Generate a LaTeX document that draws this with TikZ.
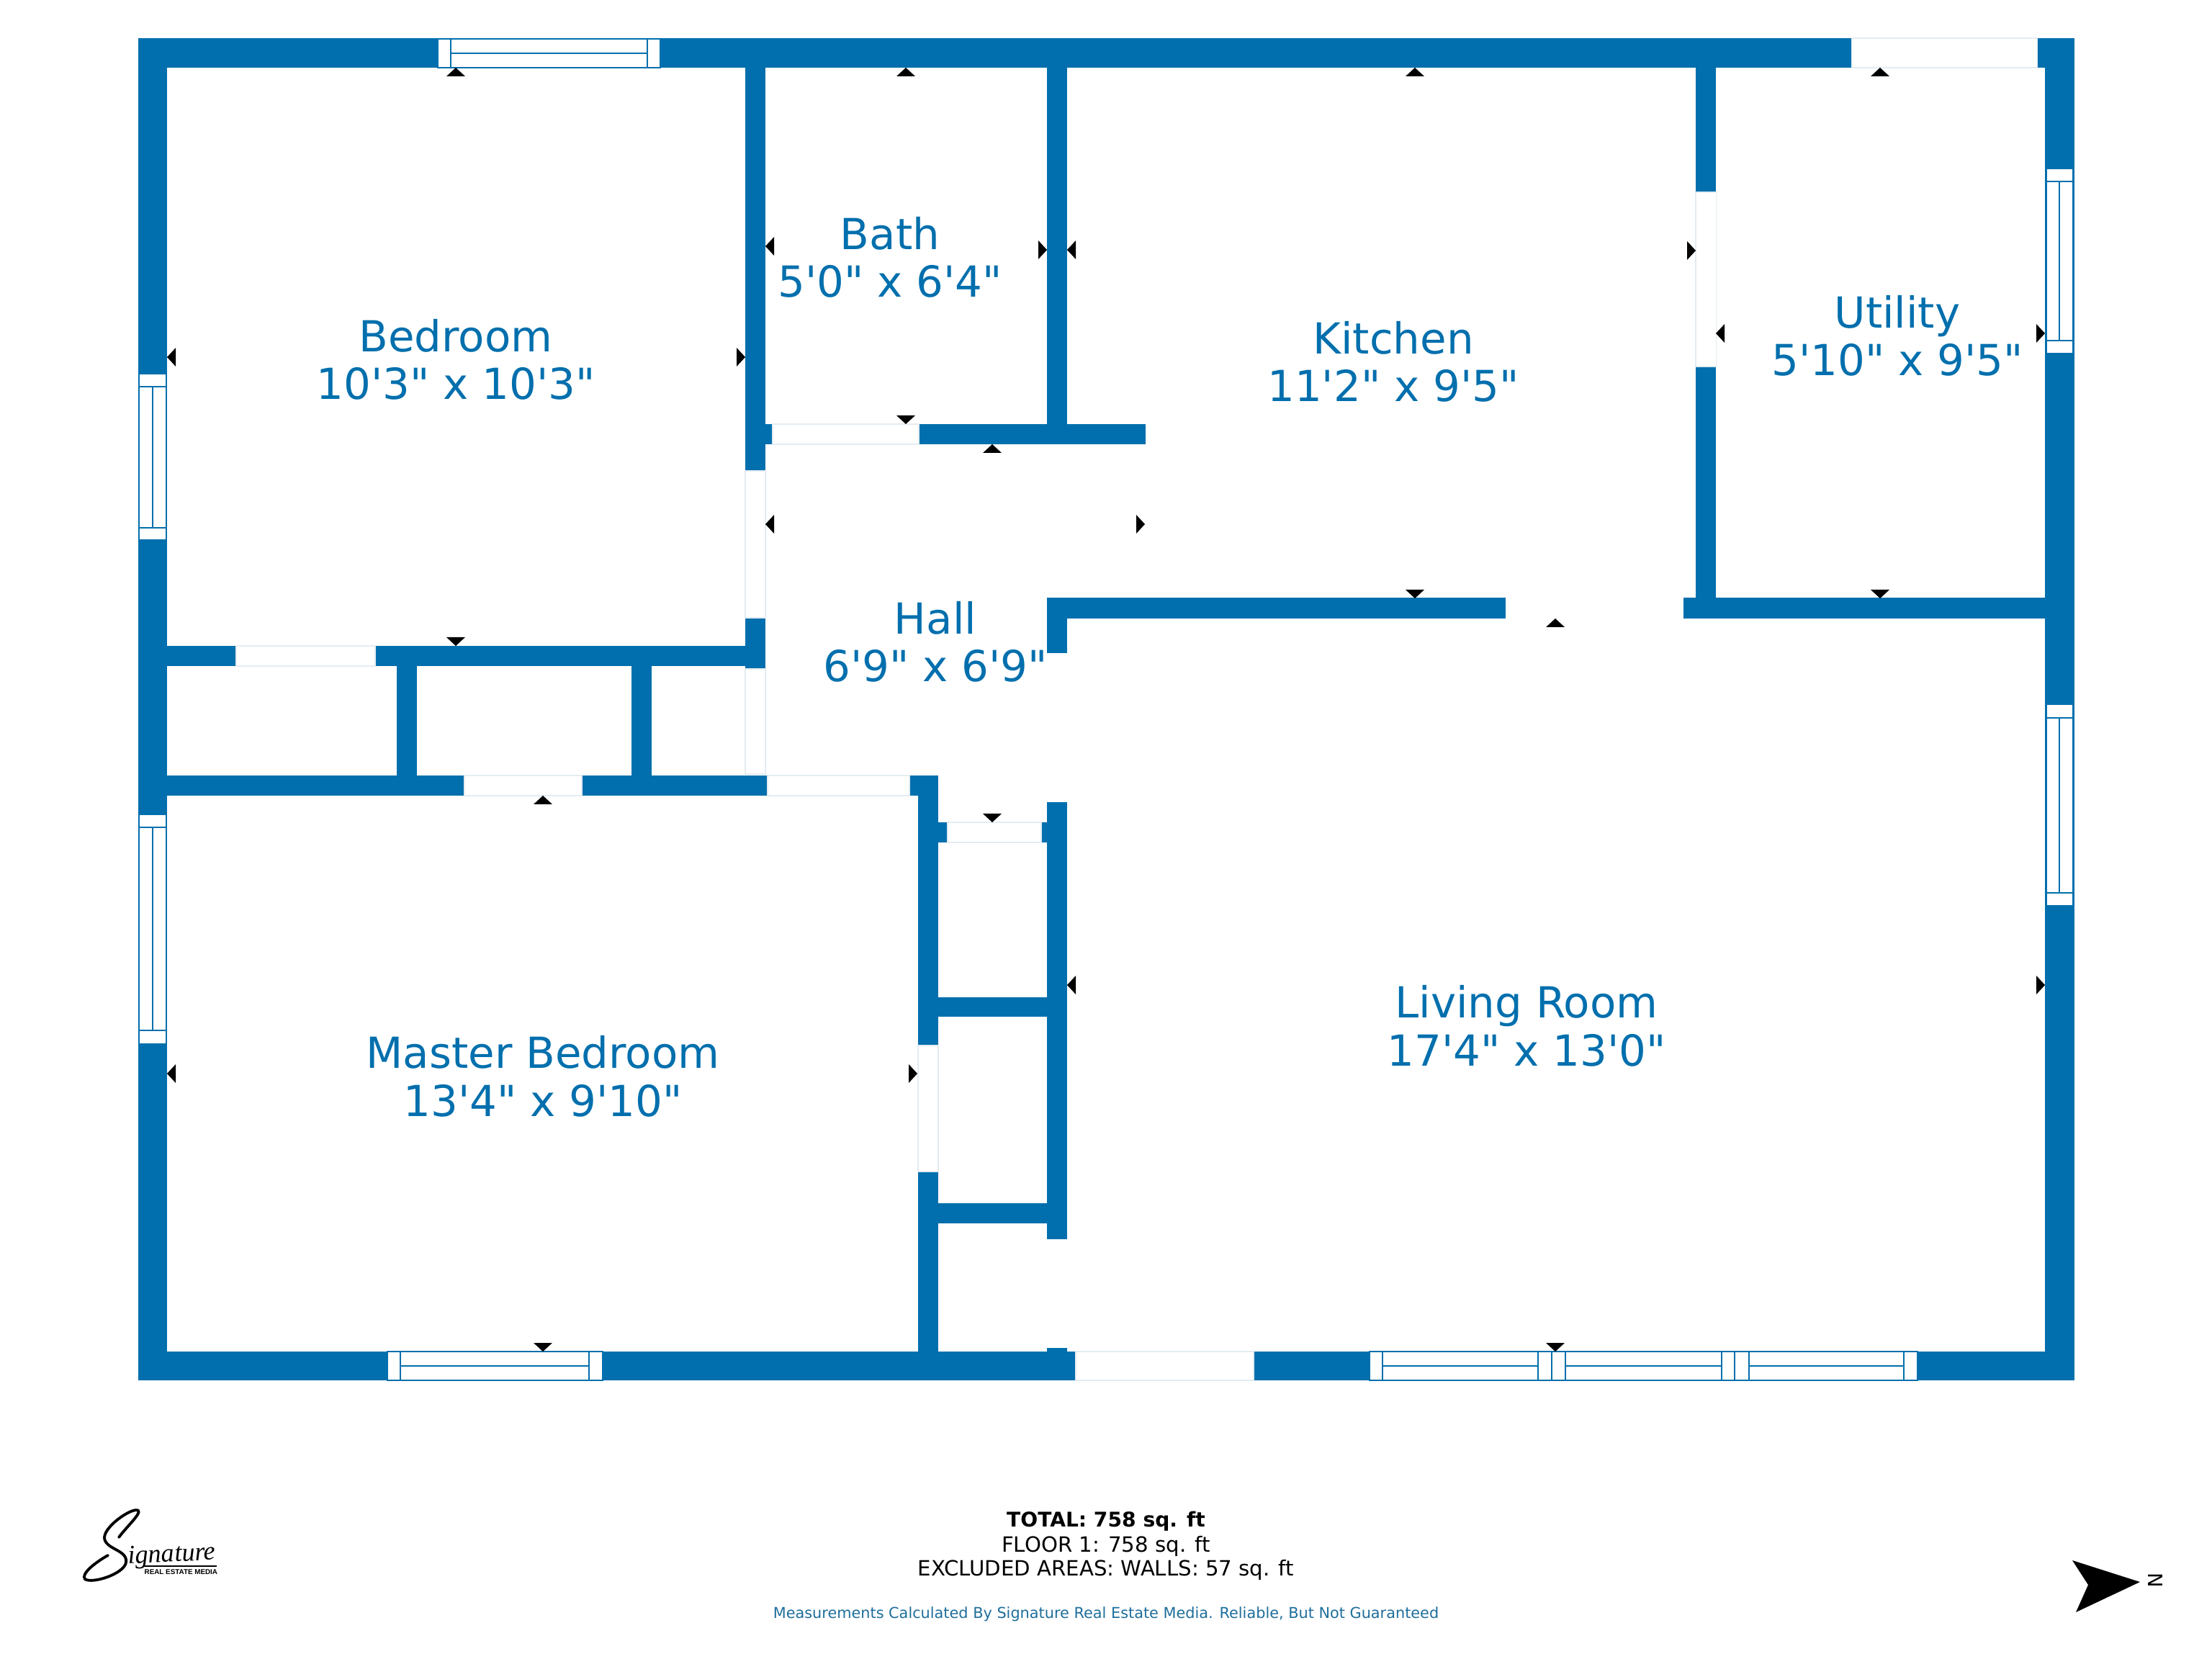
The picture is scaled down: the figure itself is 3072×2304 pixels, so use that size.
\documentclass[tikz,border=0pt]{standalone}
\usepackage{fontspec}
\setmainfont[Ligatures=TeXOff]{DejaVu Sans}
\newfontfamily\logosans{Liberation Sans}
\newfontfamily\logoserif{Liberation Serif}
\definecolor{planblue}{RGB}{1,111,173}
\definecolor{notegray}{RGB}{30,110,155}
\definecolor{doorline}{RGB}{228,236,241}
\tikzset{
	wall/.style={fill=planblue,draw=none},
	door/.style={fill=white,draw=doorline,line width=0.3pt},
	opening/.style={fill=white,draw=none},
	pane/.style={fill=white,draw=planblue,line width=0.7pt},
	marker/.style={fill=black,draw=none},
	room/.style={text=planblue,align=center,anchor=base,font=\fontsize{16.9}{19}\selectfont,inner sep=0pt},
	note/.style={anchor=base,inner sep=0pt,font=\fontsize{8.3}{10}\selectfont}
}
\begin{document}
\begin{tikzpicture}[x=0.01cm,y=-0.01cm]
	\useasboundingbox (0,0) rectangle (3072,2304);
	% outer and inner walls
	\foreach \xa/\ya/\xb/\yb in {192/53/232/1917,192/53/2881/94,2840/53/2881/1917,192/1877/2881/1917,
		1035/94/1063/929,232/897/1063/925,551/925/579/1077,877/925/905/1077,232/1077/1066/1105,
		1263/1077/1303/1105,1275/1077/1303/1917,1303/1142/1316/1170,1446/1142/1454/1170,
		1454/1114/1482/1721,1454/1872/1482/1917,1303/1385/1454/1412,1303/1671/1454/1699,
		1454/830/1482/907,1454/830/2091/859,2338/830/2881/859,2355/94/2383/859,1454/94/1482/617,
		1035/589/1073/617,1276/589/1591/617}{
		\fill [wall] (\xa,\ya) rectangle (\xb,\yb);
	}
	% doors
	\foreach \xa/\ya/\xb/\yb in {1035/654/1063/858,1035/929/1063/1075,328/897/521/925,645/1077/808/1105,
		1066/1077/1263/1105,1275/1452/1303/1627,1316/1142/1446/1170,
		1073/589/1276/617,2355/267/2383/509,2571/53/2829/94,1494/1877/1741/1917}{
		\draw [door] (\xa,\ya) rectangle (\xb,\yb);
	}
	\foreach \xa/\ya/\xb/\yb in {1454/1721/1482/1872,1454/907/1482/1114}{
		\fill [opening] (\xa,\ya) rectangle (\xb,\yb);
	}
	% windows along the top and bottom walls
	\foreach \xa/\xb/\ya/\yb in {608/626/54/94,626/899/54/94,899/917/54/94,
		538/556/1877/1917,556/818/1877/1917,818/837/1877/1917,
		1902/1920/1877/1917,1920/2136/1877/1917,2136/2155/1877/1917,2155/2174/1877/1917,
		2174/2391/1877/1917,2391/2409/1877/1917,2409/2429/1877/1917,
		2429/2644/1877/1917,2644/2663/1877/1917}{
		\draw [pane] (\xa,\ya) rectangle (\xb,\yb);
	}
	\foreach \xa/\xb/\ym in {626/899/74,556/818/1897,1920/2136/1897,2174/2391/1897,2429/2644/1897}{
		\draw [pane] (\xa,\ym)--(\xb,\ym);
	}
	% windows along the side walls
	\foreach \ya/\yb/\yc/\yd/\xa/\xb/\xm in {519/537/733/750/193/231/212,1131/1149/1431/1450/193/231/212,
		234/252/473/491/2842/2879/2860,978/997/1240/1258/2842/2879/2860}{
		\draw [pane] (\xa,\ya) rectangle (\xb,\yb);
		\draw [pane] (\xa,\yb) rectangle (\xb,\yc);
		\draw [pane] (\xa,\yc) rectangle (\xb,\yd);
		\draw [pane] (\xm,\yb)--(\xm,\yc);
	}
	% measuring points
	\foreach \x/\y in {633/94,1258/94,1965/94,2611/94,754/1105,1378/617,2160/859}{
		\fill [marker] (\x,\y)--(\x+13,\y+12)--(\x-13,\y+12)--cycle;
	}
	\foreach \x/\y in {633/897,1258/589,1965/831,2611/831,1378/1142,754/1877,2160/1877}{
		\fill [marker] (\x,\y)--(\x+13,\y-12)--(\x-13,\y-12)--cycle;
	}
	\foreach \x/\y in {232/496,1063/342,1482/347,1063/728,2383/463,1482/1368,232/1491}{
		\fill [marker] (\x,\y)--(\x+12,\y-13)--(\x+12,\y+13)--cycle;
	}
	\foreach \x/\y in {1035/496,1454/347,2355/348,2840/463,1590/728,1274/1491,2840/1368}{
		\fill [marker] (\x,\y)--(\x-12,\y-13)--(\x-12,\y+13)--cycle;
	}
	% room names
	\node [room] (bedroom) at (633,555) {Bedroom\\10'3" x 10'3"};
	\node [room] (bath) at (1236,413) {Bath\\5'0" x 6'4"};
	\node [room] (kitchen) at (1935,558) {Kitchen\\11'2" x 9'5"};
	\node [room] (utility) at (2635,522) {Utility\\5'10" x 9'5"};
	\node [room] (hall) at (1299,947) {Hall\\6'9" x 6'9"};
	\node [room] (master) at (754,1550) {Master Bedroom\\13'4" x 9'10"};
	\node [room] (living) at (2120,1480) {Living Room\\17'4" x 13'0"};
	% totals
	\node [note,font=\bfseries\fontsize{8}{10}\selectfont] (total) at (1536,2120) {TOTAL: 758 sq. ft};
	\node [note] (floor) at (1536,2155) {FLOOR 1: 758 sq. ft};
	\node [note] (excluded) at (1536,2188) {EXCLUDED AREAS: WALLS: 57 sq. ft};
	\node [note,text=notegray,font=\fontsize{5.92}{8}\selectfont] (claim) at (1536,2247) {Measurements Calculated By Signature Real Estate Media. Reliable, But Not Guaranteed};
	% logo
	\draw [line width=1.1pt,line cap=round] (165,2135) .. controls (178,2118) and (196,2102) .. (192,2098)
		.. controls (186,2092) and (146,2118) .. (145,2135) .. controls (145,2152) and (178,2152) .. (175,2170)
		.. controls (172,2186) and (128,2200) .. (118,2193) .. controls (112,2186) and (132,2170) .. (150,2160);
	\node [anchor=base west,inner sep=0pt,rotate=3,font=\logoserif\itshape\fontsize{10.3}{12}\selectfont] (signature) at (178,2172) {ignature};
	\fill [black] (200,2174) rectangle (301,2176);
	\node [anchor=base west,inner sep=0pt,font=\logosans\bfseries\fontsize{2.8}{4}\selectfont] (media) at (200,2186) {REAL ESTATE MEDIA};
	% north arrow
	\fill [black] (2878,2167)--(2972,2197)--(2883,2239)--(2900,2201)--cycle;
	\node [rotate=-90,inner sep=0pt,font=\fontsize{7.8}{9}\selectfont] (north) at (2993,2195) {N};
\end{tikzpicture}
\end{document}
